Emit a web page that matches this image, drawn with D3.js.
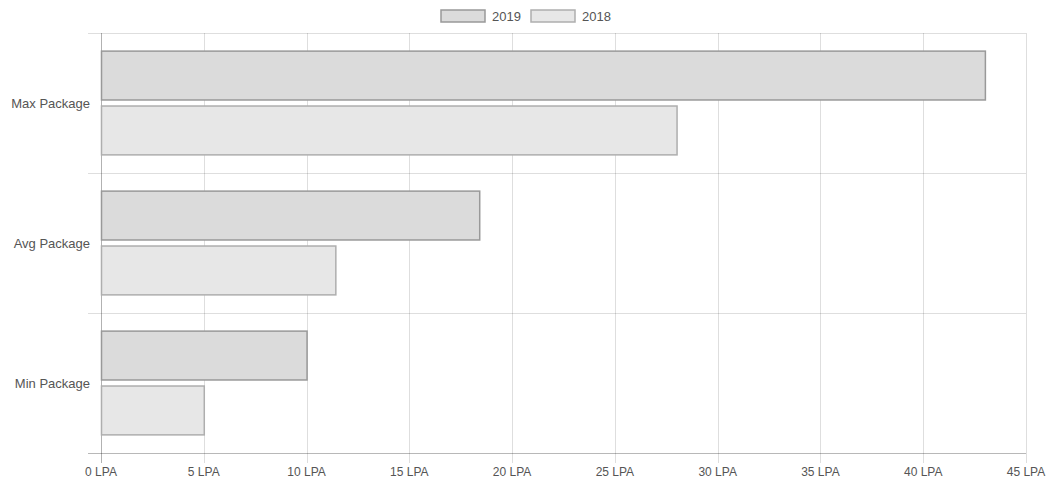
<!DOCTYPE html>
<html>
<head>
<meta charset="utf-8">
<script src="https://cdn.jsdelivr.net/npm/d3@7"></script>
<style>
    body { margin: 0; background: #fff; }
    svg text { font-family: "Liberation Sans", Arial, sans-serif; }
</style>
</head>
<body>
<script>
const categories = ['Max Package', 'Avg Package', 'Min Package'];
const seriesNames = ['2019', '2018'];
const values2019 = [43, 18.4, 10];
const values2018 = [28, 11.4, 5];
const xTicks = [0, 5, 10, 15, 20, 25, 30, 35, 40, 45];

const width = 1054;
const height = 484;
const margin = { top: 33, right: 28, bottom: 31, left: 101 };

const colors = {
    '2019': { fill: '#dbdbdb', stroke: '#999' },
    '2018': { fill: '#e7e7e7', stroke: '#aeaeae' }
};

const svg = d3.select('body')
    .append('svg')
    .attr('width', width)
    .attr('height', height);

const x = d3.scaleLinear().domain([0, 45]).range([margin.left, width - margin.right]);
const y = d3.scaleBand().domain(categories).range([margin.top, height - margin.bottom]);
const ySeries = d3.scaleBand().domain(seriesNames)
    .range([0, y.bandwidth()])
    .paddingInner(0.11)
    .paddingOuter(0.33);

const rows = categories.map((c, i) => ({ cat: c, '2019': values2019[i], '2018': values2018[i] }));

// grid
const grid = svg.append('g');
grid.selectAll('line.v')
    .data(xTicks)
    .enter()
    .append('line')
    .attr('x1', d => Math.round(x(d)) + 0.5)
    .attr('x2', d => Math.round(x(d)) + 0.5)
    .attr('y1', margin.top)
    .attr('y2', height - margin.bottom + 10)
    .attr('stroke', d => d === 0 ? 'rgba(0,0,0,0.3)' : 'rgba(0,0,0,0.13)');

const bounds = categories.map(c => y(c)).concat([height - margin.bottom]);
grid.selectAll('line.h')
    .data(bounds)
    .enter()
    .append('line')
    .attr('x1', margin.left - 13)
    .attr('x2', width - margin.right)
    .attr('y1', d => Math.round(d) + 0.5)
    .attr('y2', d => Math.round(d) + 0.5)
    .attr('stroke', (d, i) => i === bounds.length - 1 ? 'rgba(0,0,0,0.28)' : 'rgba(0,0,0,0.13)');

// bars
const groups = svg.append('g')
    .selectAll('g')
    .data(rows)
    .enter()
    .append('g')
    .attr('transform', d => `translate(0,${y(d.cat)})`);

groups.selectAll('rect')
    .data(d => seriesNames.map(s => ({ s: s, v: d[s] })))
    .enter()
    .append('rect')
    .attr('x', x(0) + 0.5)
    .attr('y', d => ySeries(d.s))
    .attr('width', d => x(d.v) - x(0))
    .attr('height', ySeries.bandwidth())
    .attr('fill', d => colors[d.s].fill)
    .attr('stroke', d => colors[d.s].stroke)
    .attr('stroke-width', 1.5);

// y labels
svg.append('g')
    .selectAll('text')
    .data(categories)
    .enter()
    .append('text')
    .attr('x', margin.left - 11)
    .attr('y', d => y(d) + y.bandwidth() / 2)
    .attr('dy', '0.35em')
    .attr('text-anchor', 'end')
    .attr('font-size', 13)
    .attr('fill', '#555')
    .text(d => d);

// x labels
svg.append('g')
    .selectAll('text')
    .data(xTicks)
    .enter()
    .append('text')
    .attr('x', d => x(d))
    .attr('y', height - margin.bottom + 23)
    .attr('text-anchor', 'middle')
    .attr('font-size', 12)
    .attr('fill', '#555')
    .text(d => d + ' LPA');

// legend
const legendX = [441, 531];
const legend = svg.append('g')
    .selectAll('g')
    .data(seriesNames)
    .enter()
    .append('g')
    .attr('transform', (d, i) => `translate(${legendX[i]},10)`);

legend.append('rect')
    .attr('width', 44)
    .attr('height', 12)
    .attr('fill', d => colors[d].fill)
    .attr('stroke', d => colors[d].stroke)
    .attr('stroke-width', 1.5);

legend.append('text')
    .attr('x', 51)
    .attr('y', 6)
    .attr('dy', '0.35em')
    .attr('font-size', 13)
    .attr('fill', '#555')
    .text(d => d);
</script>
</body>
</html>
